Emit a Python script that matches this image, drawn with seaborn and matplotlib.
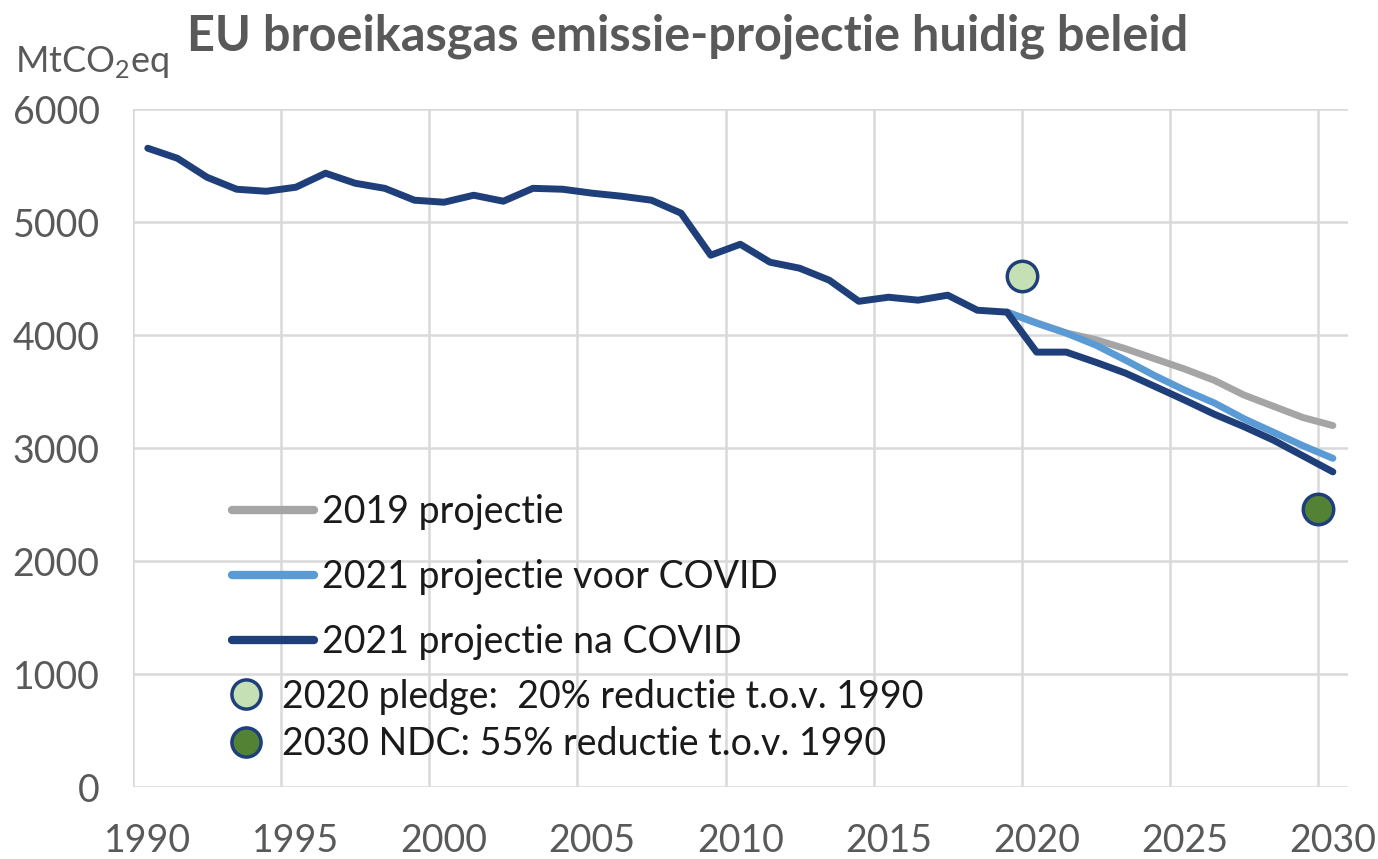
import matplotlib
matplotlib.use("Agg")
import matplotlib.pyplot as plt
import seaborn as sns
from matplotlib.lines import Line2D

# ==========================================
# Data
# ==========================================
years_hist = list(range(1990, 2031))
emis_na_covid = [
    5655, 5566, 5398, 5292, 5274, 5310, 5434, 5345, 5300, 5195,
    5177, 5239, 5186, 5300, 5292, 5257, 5230, 5195, 5080, 4708,
    4805, 4646, 4593, 4487, 4300, 4336, 4310, 4354, 4221, 4204,
    3850, 3850, 3760, 3664, 3545, 3425, 3300, 3190, 3070, 2930,
    2790
]

years_proj = list(range(2019, 2031))
emis_voor_covid = [4204, 4106, 4018, 3912, 3779, 3640, 3513, 3400, 3260, 3140, 3020, 2910]
emis_2019 = [4204, 4110, 4020, 3960, 3880, 3790, 3700, 3600, 3470, 3370, 3270, 3200]

pledge_year = [2019.5]
pledge_value = [4520]
ndc_year = [2029.5]
ndc_value = [2460]

x_ticks = [1990, 1995, 2000, 2005, 2010, 2015, 2020, 2025, 2030]
y_ticks = [0, 1000, 2000, 3000, 4000, 5000, 6000]

# colours
navy = "#1F3F7A"
light_blue = "#5B9BD5"
grey = "#A5A5A5"
pledge_fill = "#C5E0B4"
ndc_fill = "#548235"
text_grey = "#595959"

sns.set_style("white")
plt.rcParams["font.family"] = ["Lato", "DejaVu Sans"]
plt.rcParams["mathtext.fontset"] = "custom"
plt.rcParams["mathtext.rm"] = "Lato"

fig = plt.figure(figsize=(13.78, 8.59), dpi=100)
ax = fig.add_axes([0.0965, 0.0838, 0.8815, 0.789])

# ==========================================
# Lines
# ==========================================
sns.lineplot(x=years_proj, y=emis_2019, color=grey, linewidth=5, ax=ax)
sns.lineplot(x=years_proj, y=emis_voor_covid, color=light_blue, linewidth=5, ax=ax)
sns.lineplot(x=years_hist, y=emis_na_covid, color=navy, linewidth=5, ax=ax)

# ==========================================
# Markers
# ==========================================
sns.scatterplot(x=pledge_year, y=pledge_value, s=480, color=pledge_fill,
                edgecolor=navy, linewidth=2.5, ax=ax, zorder=5)
sns.scatterplot(x=ndc_year, y=ndc_value, s=480, color=ndc_fill,
                edgecolor=navy, linewidth=2.5, ax=ax, zorder=5)

# ==========================================
# Axes styling
# ==========================================
ax.set_xlim(1989.5, 2030.5)
ax.set_ylim(0, 6000)
ax.set_xticks(x_ticks)
ax.set_yticks(y_ticks)
ax.set_xticklabels([str(v) for v in x_ticks])
ax.tick_params(axis="both", length=0, labelsize=27, labelcolor=text_grey)
ax.tick_params(axis="y", pad=24)
ax.tick_params(axis="x", pad=26)

for gx in range(1989, 2030, 5):
    ax.axvline(gx + 0.5, color="#D9D9D9", linewidth=1.8, zorder=0)
for gy in y_ticks:
    ax.axhline(gy, color="#D9D9D9", linewidth=1.8, zorder=0)

for side in ["top", "right", "left", "bottom"]:
    ax.spines[side].set_visible(False)

ax.set_xlabel("")
ax.set_ylabel("")

# ==========================================
# Titles
# ==========================================
fig.text(0.499, 0.958, "EU broeikasgas emissie-projectie huidig beleid",
         ha="center", va="center", fontsize=35, fontweight="bold", color=text_grey)
fig.text(0.011, 0.928, r"MtCO$_\mathregular{2}$eq", ha="left", va="center",
         fontsize=26, color=text_grey)

# ==========================================
# Legends
# ==========================================
line_handles = [
    Line2D([0], [0], color=grey, linewidth=6),
    Line2D([0], [0], color=light_blue, linewidth=6),
    Line2D([0], [0], color=navy, linewidth=6),
]
line_labels = ["2019 projectie", "2021 projectie voor COVID", "2021 projectie na COVID"]

leg1 = ax.legend(line_handles, line_labels, loc="upper left",
                 bbox_to_anchor=(0.168, 0.425), bbox_transform=fig.transFigure,
                 frameon=False, fontsize=27, handlelength=2.2, handletextpad=0.2,
                 labelspacing=0.78, borderpad=0, borderaxespad=0)
for t in leg1.get_texts():
    t.set_color("#1a1a1a")
ax.add_artist(leg1)

marker_handles = [
    Line2D([0], [0], marker="o", linestyle="none", markersize=21,
           markerfacecolor=pledge_fill, markeredgecolor=navy, markeredgewidth=2.5),
    Line2D([0], [0], marker="o", linestyle="none", markersize=21,
           markerfacecolor=ndc_fill, markeredgecolor=navy, markeredgewidth=2.5),
]
marker_labels = ["2020 pledge:  20% reductie t.o.v. 1990",
                 "2030 NDC: 55% reductie t.o.v. 1990"]

leg2 = ax.legend(marker_handles, marker_labels, loc="upper left",
                 bbox_to_anchor=(0.165, 0.21), bbox_transform=fig.transFigure,
                 frameon=False, fontsize=27, handlelength=1.0, handletextpad=0.45,
                 labelspacing=0.3, borderpad=0, borderaxespad=0)
for t in leg2.get_texts():
    t.set_color("#1a1a1a")

plt.savefig("out.png", dpi=100)
plt.close()
